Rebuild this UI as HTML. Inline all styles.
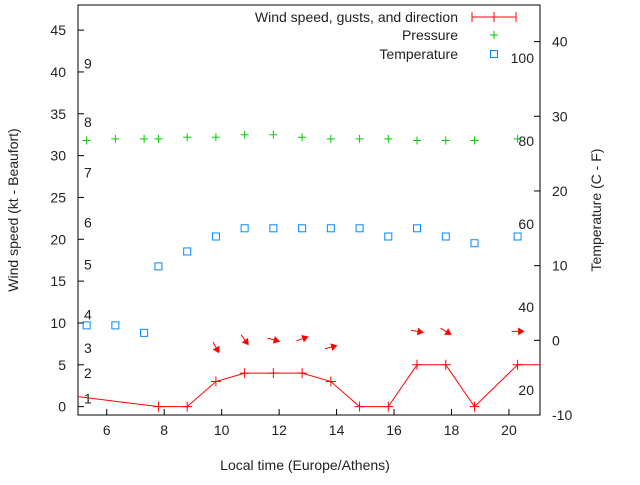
<!DOCTYPE html>
<html><head><meta charset="utf-8"><style>
body{margin:0;background:#fff}
svg text{font-family:"Liberation Sans",sans-serif;font-size:14px;fill:#222}
</style></head><body>
<svg id="c" width="640" height="480" xmlns="http://www.w3.org/2000/svg"></svg>
<script>
const hours=[5.0,7.8,8.8,9.8,10.8,11.8,12.8,13.8,14.8,15.8,16.8,17.8,18.8,20.3,21.1];
const wind=[1.2,0,0,3,4,4,4,3,0,0,5,5,0,5,5];
const markHours=[7.8,8.8,9.8,10.8,11.8,12.8,13.8,14.8,15.8,16.8,17.8,18.8,20.3];
const markWind=[0,0,3,4,4,4,3,0,0,5,5,0,5];
const pHours=[5.3,6.3,7.3,7.8,8.8,9.8,10.8,11.8,12.8,13.8,14.8,15.8,16.8,17.8,18.8,20.3];
const pressure=[31.8,32.0,32.0,32.0,32.2,32.2,32.5,32.5,32.2,32.0,32.0,32.0,31.8,31.8,31.8,32.0];
const tempHours=[5.3,6.3,7.3,7.8,8.8,9.8,10.8,11.8,12.8,13.8,14.8,15.8,16.8,17.8,18.8,20.3];
const temp=[2.0,2.0,1.0,9.9,11.9,13.9,15.0,15.0,15.0,15.0,15.0,13.9,15.0,13.9,13.0,13.9];
const arrowHours=[9.8,10.8,11.8,12.8,13.8,16.8,17.8,20.3];
const arrowY=[7.1,8.0,8.0,8.1,7.1,9.0,9.0,9.0];
const arrowAngle=[61,54,15,-20,-15,10,31,0];
const xTicks=[6,8,10,12,14,16,18,20];
const yTicks=[0,5,10,15,20,25,30,35,40,45];
const y2Ticks=[-10,0,10,20,30,40];
const beaufort=[1,2,3,4,5,6,7,8,9];
const beaufortKt=[1,4,7,11,17,22,28,34,41];
const fLabels=[20,40,60,80,100];

const L=78,R=540,T=5,B=415;
const X=h=>L+(h-5)*(R-L)/(21.08-5);
const Y=v=>B-(v+1)*(B-T)/49;
const Y2=v=>B-(v+10)*(B-T)/54.9;
const F2C=f=>(f-32)*5/9;
const svg=document.getElementById('c');
const NS='http://www.w3.org/2000/svg';
function mk(tag,a,parent){const e=document.createElementNS(NS,tag);for(const k in a)e.setAttribute(k,a[k]);(parent||svg).appendChild(e);return e;}

let e;
e=mk('rect',{x:L,y:T,width:R-L,height:B-T,fill:'none',stroke:'#000','stroke-width':1});

xTicks.forEach(t=>{
 e=mk('line',{x1:X(t),x2:X(t),y1:B,y2:B-6,stroke:'#000'});
 
 e=mk('text',{x:X(t),y:B+20,'text-anchor':'middle'});e.textContent=t;
 
});
yTicks.forEach(t=>{
 e=mk('line',{x1:L,x2:L+6,y1:Y(t),y2:Y(t),stroke:'#000'});
 
 e=mk('text',{x:L-12,y:Y(t)+5,'text-anchor':'end'});e.textContent=t;
 
});
y2Ticks.forEach(t=>{
 e=mk('line',{x1:R,x2:R-6,y1:Y2(t),y2:Y2(t),stroke:'#000'});
 
 e=mk('text',{x:R+12,y:Y2(t)+5,'text-anchor':'start'});e.textContent=t;
 
});
beaufort.forEach((b,i)=>{
 e=mk('text',{x:84,y:Y(beaufortKt[i])+5});e.textContent=b;
 
});
fLabels.forEach(f=>{
 e=mk('text',{x:534,y:Y2(F2C(f))+5,'text-anchor':'end'});e.textContent=f;
 
});
e=mk('text',{x:305,y:470,'text-anchor':'middle'});e.textContent='Local time (Europe/Athens)';

e=mk('text',{x:18,y:210,'text-anchor':'middle',transform:'rotate(-90 18 210)'});e.textContent='Wind speed (kt - Beaufort)';

e=mk('text',{x:601,y:210,'text-anchor':'middle',transform:'rotate(-90 601 210)'});e.textContent='Temperature (C - F)';


const clip=mk('clipPath',{id:'pc'});mk('rect',{x:L,y:T,width:R-L,height:B-T},clip);
const g=mk('g',{'clip-path':'url(#pc)'});
e=mk('polyline',{points:hours.map((h,i)=>X(h)+','+Y(wind[i])).join(' '),fill:'none',stroke:'#f00','stroke-width':1},g);

markHours.forEach((h,i)=>{
 const x=X(h),y=Y(markWind[i]);
 e=mk('path',{d:`M${x} ${y-5}V${y+5}M${x-5} ${y}H${x+5}`,stroke:'#f00'},g);
 
});
arrowHours.forEach((h,i)=>{
 const a=arrowAngle[i]*Math.PI/180,cx=X(h),cy=Y(arrowY[i]),len=12;
 const dx=Math.cos(a)*len/2,dy=Math.sin(a)*len/2;
 const x1=cx-dx,y1=cy-dy,x2=cx+dx,y2=cy+dy;
 const hx=x2-Math.cos(a)*5,hy=y2-Math.sin(a)*5,px=-Math.sin(a)*3,py=Math.cos(a)*3;
 e=mk('path',{d:`M${x1} ${y1}L${x2} ${y2}M${x2} ${y2}L${hx+px} ${hy+py}L${hx-px} ${hy-py}Z`,stroke:'#f00',fill:'#f00','stroke-width':1},g);
 
});
pHours.forEach((h,i)=>{
 const x=X(h),y=Y(pressure[i]);
 e=mk('path',{d:`M${x} ${y-4}V${y+4}M${x-4} ${y}H${x+4}`,stroke:'#0c0'},g);
 
});
tempHours.forEach((h,i)=>{
 const x=X(h),y=Y2(temp[i]);
 e=mk('rect',{x:x-3.5,y:y-3.5,width:7,height:7,fill:'none',stroke:'#08f'},g);
 
});
const legend=[['Wind speed, gusts, and direction',17],['Pressure',35],['Temperature',54]];
legend.forEach((l,i)=>{
 e=mk('text',{x:458,y:l[1]+5,'text-anchor':'end'});e.textContent=l[0];
 
});
e=mk('path',{d:'M472 17H516M472 12V22M516 12V22M494 12V22',stroke:'#f00'});

e=mk('path',{d:'M494 31V39M490 35H498',stroke:'#0c0'});

e=mk('rect',{x:490.5,y:50.5,width:7,height:7,fill:'none',stroke:'#08f'});

</script>
</body></html>
